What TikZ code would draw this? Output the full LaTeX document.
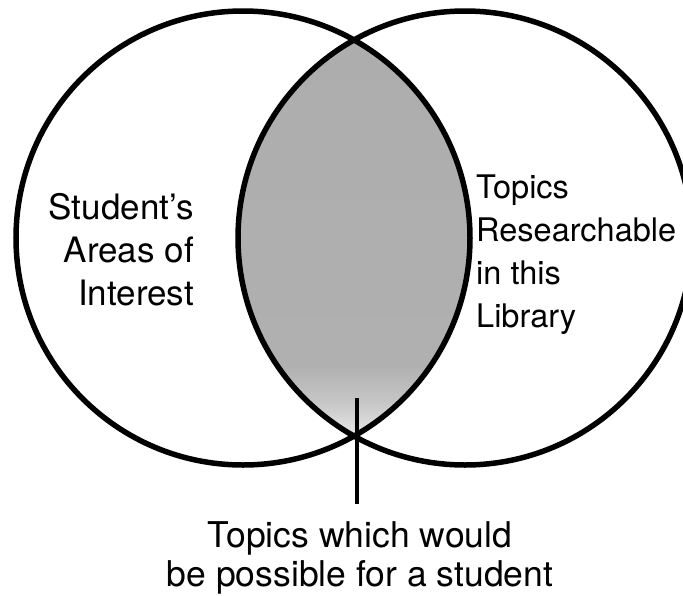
\documentclass[tikz,border=0pt]{standalone}
\usepackage{fontspec}
\setmainfont{TeX Gyre Heros}
% grey fill of the common region, thinning out towards its lower tip
\pgfdeclareverticalshading{lensfade}{100bp}{%
  color(0bp)=(gray!10); color(28bp)=(gray!16); color(32bp)=(gray!45);
  color(36bp)=(gray!62); color(100bp)=(gray!66)}
\begin{document}
\begin{tikzpicture}[x=1pt,y=1pt,
  ring/.style={line width=5.5pt, draw=black},
  labeltext/.style={inner sep=0pt, text=black},
  stem/.style={line width=4.5pt, draw=black}]
  \useasboundingbox (0,0) rectangle (683,-595);
  \fill[white] (0,0) rectangle (683,-595);

  \coordinate (L) at (243,-238);
  \coordinate (R) at (465,-238);

  % overlap of the two sets
  \begin{scope}
    \clip (L) circle[radius=227];
    \shade[shading=lensfade] (R) circle[radius=227];
  \end{scope}

  \draw[ring] (L) circle[radius=227];
  \draw[ring] (R) circle[radius=227];

  % the base anchor of these nodes sits on their last line
  \node[labeltext, align=right, anchor=base east,
        font=\fontsize{35}{43}\selectfont] (student) at (194,-305.5)
    {Student's\\Areas of\\Interest};

  \node[labeltext, align=left, anchor=base west,
        font=\fontsize{32.5}{42.7}\selectfont] (library) at (476,-327)
    {Topics\\Researchable\\in this\\Library};

  \node[labeltext, inner ysep=17pt, align=center, anchor=base,
        font=\fontsize{35.5}{39}\selectfont] (note) at (360,-586)
    {Topics which would\\be possible for a student};

  \coordinate (stemtop) at (357,-398);
  \draw[stem] (stemtop) -- (stemtop |- note.north);
\end{tikzpicture}
\end{document}
